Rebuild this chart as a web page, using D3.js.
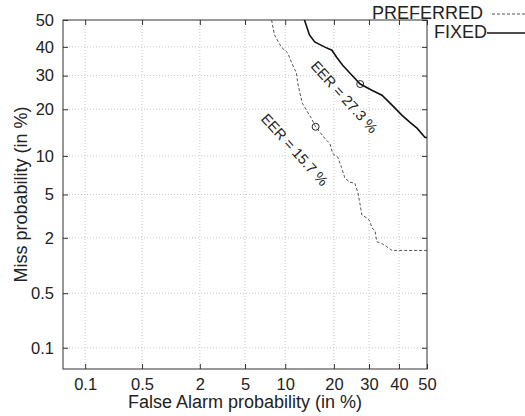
<!DOCTYPE html>
<html>
<head>
<meta charset="utf-8">
<script src="https://cdn.jsdelivr.net/npm/d3@7"></script>
<style>
  body { margin: 0; background: #fff; }
  text { font-family: "Liberation Sans", Arial, sans-serif; fill: #222; }
  .grid line { stroke: #c8c8c8; stroke-dasharray: 1,2; }
  .axis path { display: none; }
  .axis line { stroke: #333; }
</style>
</head>
<body>
<script>
// tick values (in %)
const tickValues = [0.1, 0.5, 2, 5, 10, 20, 30, 40, 50];

// FIXED system: false alarm % / miss %
const fixedFA   = [13.4, 14.4, 15.5, 17.8, 19.5, 20.7, 22.3, 24.8, 27.3, 30.9, 34.2, 37.6, 41.0, 43.9, 46.4, 49.3, 50];
const fixedMiss = [50, 44.4, 41.8, 39.9, 38.8, 36.3, 33.5, 30.2, 27.3, 25.4, 23.9, 21.1, 18.5, 16.7, 15.4, 13.4, 13.4];

// PREFERRED system: false alarm % / miss %
const prefFA   = [8.0, 8.4, 9.4, 10.4, 11.0, 11.9, 12.1, 12.5, 13.0, 13.8, 14.8, 15.7, 17.8, 19.0, 19.7, 21.0, 22.0, 22.9, 24.3, 25.7, 26.6, 27.2, 27.8, 29.3, 30.3, 30.9, 31.9, 32.5, 34.2, 35.8, 37.6, 50];
const prefMiss = [50, 44.4, 39.9, 37.8, 34.6, 30.8, 27.9, 24.8, 21.6, 19.7, 17.7, 15.7, 13.2, 12.2, 10.4, 9.8, 8.2, 6.8, 6.3, 6.2, 5.2, 4.2, 3.3, 3.1, 2.9, 2.5, 2.36, 1.83, 1.75, 1.63, 1.49, 1.49];

const seriesNames = ["PREFERRED", "FIXED"];
const eerValues = [15.7, 27.3];

let margin = null, width = null, height = null, svg = null;
let px, py, x, y = null;

setupCanvasSize();
appendSvg("body");
setupScales();
appendGrid();
appendAxes();
appendCurves();
appendEer();
appendLegend();
appendAxisTitles();

// inverse normal CDF (Acklam)
function probit(p) {
  const a = [-3.969683028665376e+01, 2.209460984245205e+02, -2.759285104469687e+02, 1.383577518672690e+02, -3.066479806614716e+01, 2.506628277459239e+00];
  const b = [-5.447609879822406e+01, 1.615858368580409e+02, -1.556989798598866e+02, 6.680131188771972e+01, -1.328068155288572e+01];
  const c = [-7.784894002430293e-03, -3.223964580411365e-01, -2.400758277161838e+00, -2.549732539343734e+00, 4.374664141464968e+00, 2.938163982698783e+00];
  const d = [7.784695709041462e-03, 3.224671290700398e-01, 2.445134137142996e+00, 3.754408661907416e+00];
  const plow = 0.02425;
  let q, r;
  if (p < plow) {
    q = Math.sqrt(-2 * Math.log(p));
    return (((((c[0]*q+c[1])*q+c[2])*q+c[3])*q+c[4])*q+c[5]) / ((((d[0]*q+d[1])*q+d[2])*q+d[3])*q+1);
  }
  if (p <= 1 - plow) {
    q = p - 0.5; r = q * q;
    return (((((a[0]*r+a[1])*r+a[2])*r+a[3])*r+a[4])*r+a[5])*q / (((((b[0]*r+b[1])*r+b[2])*r+b[3])*r+b[4])*r+1);
  }
  q = Math.sqrt(-2 * Math.log(1 - p));
  return -(((((c[0]*q+c[1])*q+c[2])*q+c[3])*q+c[4])*q+c[5]) / ((((d[0]*q+d[1])*q+d[2])*q+d[3])*q+1);
}

function setupCanvasSize() {
  margin = {top: 20, left: 63, bottom: 47, right: 98};
  width = 525 - margin.left - margin.right;
  height = 416 - margin.top - margin.bottom;
}

function appendSvg(domElement) {
  svg = d3.select(domElement).append("svg")
    .attr("width", 525)
    .attr("height", 416)
    .append("g")
    .attr("transform", `translate(${margin.left}, ${margin.top})`);
}

function setupScales() {
  // linear scales in normal-deviate (probit) space
  px = d3.scaleLinear().domain([probit(0.0005), probit(0.5)]).range([0, width]);
  py = d3.scaleLinear().domain([probit(0.0005), probit(0.5)]).range([height, 0]);
  x = v => px(probit(v / 100));
  y = v => py(probit(v / 100));
}

function appendGrid() {
  const g = svg.append("g").attr("class", "grid");
  g.selectAll(".gx").data(tickValues.slice(0, -1)).enter().append("line")
    .attr("x1", d => x(d)).attr("x2", d => x(d))
    .attr("y1", 0).attr("y2", height);
  g.selectAll(".gy").data(tickValues.slice(0, -1)).enter().append("line")
    .attr("y1", d => y(d)).attr("y2", d => y(d))
    .attr("x1", 0).attr("x2", width);
}

function appendAxes() {
  const tv = tickValues.map(v => probit(v / 100));
  const fmt = (d, i) => String(tickValues[i]);
  svg.append("g").attr("class", "axis")
    .attr("transform", `translate(0, ${height})`)
    .call(d3.axisBottom(px).tickValues(tv).tickFormat(fmt).tickSizeInner(-5).tickSizeOuter(0).tickPadding(9))
    .call(g => g.selectAll("text").style("font-size", "16.5px").attr("fill", "#222"));
  svg.append("g").attr("class", "axis")
    .call(d3.axisTop(px).tickValues(tv).tickFormat("").tickSizeInner(-5).tickSizeOuter(0));
  svg.append("g").attr("class", "axis")
    .call(d3.axisLeft(py).tickValues(tv).tickFormat(fmt).tickSizeInner(-5).tickSizeOuter(0).tickPadding(9))
    .call(g => g.selectAll("text").style("font-size", "16.5px").attr("fill", "#222"));
  svg.append("g").attr("class", "axis")
    .attr("transform", `translate(${width}, 0)`)
    .call(d3.axisRight(py).tickValues(tv).tickFormat("").tickSizeInner(-5).tickSizeOuter(0));
  // frame
  svg.append("rect")
    .attr("width", width).attr("height", height)
    .attr("fill", "none").attr("stroke", "#333").attr("stroke-width", 1);
}

function appendCurves() {
  const line = d3.line().x(d => x(d[0])).y(d => y(d[1]));
  svg.append("path")
    .datum(d3.zip(prefFA, prefMiss))
    .attr("d", line)
    .attr("fill", "none").attr("stroke", "#555").attr("stroke-width", 1)
    .attr("stroke-dasharray", "3,2");
  svg.append("path")
    .datum(d3.zip(fixedFA, fixedMiss))
    .attr("d", line)
    .attr("fill", "none").attr("stroke", "#111").attr("stroke-width", 1.6);
}

function appendEer() {
  const offsets = [[-21, 23], [-16, 13]];
  svg.selectAll(".eer").data(eerValues).enter().append("circle")
    .attr("cx", d => x(d)).attr("cy", d => y(d)).attr("r", 3.5)
    .attr("fill", "none").attr("stroke", "#222").attr("stroke-width", 1);
  svg.selectAll(".eerlabel").data(eerValues).enter().append("text")
    .attr("transform", (d, i) => `translate(${x(d) + offsets[i][0]}, ${y(d) + offsets[i][1]}) rotate(48)`)
    .attr("text-anchor", "middle")
    .attr("dominant-baseline", "central")
    .style("font-size", "14.5px")
    .text(d => `EER = ${d} %`);
}

function appendLegend() {
  const lg = svg.append("g").attr("transform", `translate(${width}, 0)`);
  const rows = [
    {name: seriesNames[0], ty: -1, ly: -6, tx: 56, lx: 65, dash: "3,2", color: "#555", sw: 1},
    {name: seriesNames[1], ty: 18, ly: 13, tx: 60, lx: 60, dash: null, color: "#111", sw: 1.4}
  ];
  rows.forEach(r => {
    lg.append("text")
      .attr("x", r.tx).attr("y", r.ty)
      .attr("text-anchor", "end")
      .style("font-size", "18px")
      .text(r.name);
    lg.append("line")
      .attr("x1", r.lx).attr("x2", 98)
      .attr("y1", r.ly).attr("y2", r.ly)
      .attr("stroke", r.color).attr("stroke-width", r.sw)
      .attr("stroke-dasharray", r.dash);
  });
}

function appendAxisTitles() {
  svg.append("text")
    .attr("x", width / 2).attr("y", height + 39)
    .attr("text-anchor", "middle")
    .style("font-size", "18px")
    .text("False Alarm probability (in %)");
  svg.append("text")
    .attr("transform", `translate(${-36}, ${height / 2}) rotate(-90)`)
    .attr("text-anchor", "middle")
    .style("font-size", "18px")
    .text("Miss probability (in %)");
}
</script>
</body>
</html>
